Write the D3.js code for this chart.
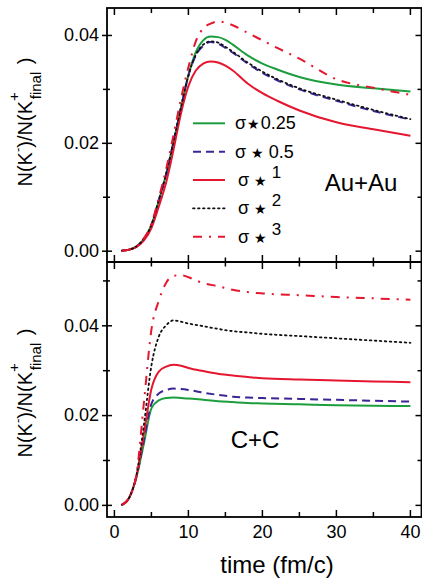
<!DOCTYPE html>
<html><head><meta charset="utf-8">
<script src="https://cdn.jsdelivr.net/npm/d3@7"></script>
<style>body{margin:0;background:#fff}svg{display:block;font-family:"Liberation Sans",Arial,sans-serif}</style>
</head><body><svg id="c" width="422" height="583"></svg>
<script>
// ---- data ----
const seriesNames = ["σ*0.25","σ*0.5","σ*1","σ*2","σ*3"];
const tTop = [1,2,3,4,5,6,7,8,9,10,11,12,13,14,15,16,18,20,22,25,30,35,40];
const auGreen = [0,0.0002,0.0008,0.0022,0.0047,0.0093,0.0142,0.0202,0.0265,0.0325,0.0368,0.0390,0.0397,0.0396,0.0391,0.0382,0.0362,0.0347,0.0336,0.0322,0.0308,0.0301,0.0295];
const auBlue  = [0,0.0002,0.0008,0.0022,0.0047,0.0093,0.0142,0.0202,0.0265,0.0325,0.0362,0.0380,0.0387,0.0384,0.0376,0.0367,0.0347,0.0330,0.0316,0.0299,0.0278,0.0259,0.0243];
const auRed   = [0,0.0002,0.0007,0.0019,0.0042,0.0082,0.0127,0.0188,0.0255,0.0305,0.0334,0.0347,0.0351,0.0349,0.0343,0.0334,0.0310,0.0292,0.0278,0.0260,0.0238,0.0225,0.0213];
const auBlack = [0,0.0002,0.0008,0.0023,0.0048,0.0094,0.0143,0.0203,0.0266,0.0325,0.0363,0.0382,0.0388,0.0386,0.0378,0.0369,0.0349,0.0332,0.0318,0.0301,0.0280,0.0261,0.0244];
const auDashDot=[0,0.0002,0.0008,0.0023,0.0050,0.0098,0.0152,0.0215,0.0282,0.0340,0.0388,0.0412,0.0421,0.0425,0.0423,0.0418,0.0404,0.0390,0.0376,0.0356,0.0318,0.0302,0.0289];
const tBot = [1,2,3,4,5,6,7,8,9,10,12,14,16,18,20,25,30,35,40];
const ccGreen = [0,0.0016,0.0063,0.0138,0.0215,0.0233,0.0238,0.0239,0.0238,0.0237,0.0234,0.0231,0.0229,0.0227,0.0226,0.0224,0.0222,0.0221,0.0220];
const ccBlue  = [0,0.0016,0.0064,0.0145,0.0225,0.0248,0.0256,0.0259,0.0258,0.0256,0.0250,0.0245,0.0241,0.0239,0.0238,0.0236,0.0234,0.0232,0.0230];
const ccRed   = [0,0.0016,0.0066,0.0160,0.0258,0.0297,0.0308,0.0312,0.0310,0.0305,0.0298,0.0292,0.0288,0.0285,0.0282,0.0279,0.0277,0.0275,0.0273];
const ccBlack = [0,0.0016,0.0068,0.0180,0.0310,0.0375,0.0400,0.0411,0.0408,0.0404,0.0398,0.0392,0.0387,0.0384,0.0381,0.0376,0.0371,0.0366,0.0361];
const ccDashDot=[0,0.0016,0.0070,0.0230,0.0390,0.0455,0.0495,0.0510,0.0512,0.0507,0.0494,0.0487,0.0479,0.0474,0.0471,0.0467,0.0463,0.0460,0.0457];
const xTicks = [0,10,20,30,40];
const xMinor = [5,15,25,35];
const yTicksTop = [0,0.02,0.04], yMinorTop = [0.01,0.03];
const yTicksBot = [0,0.02,0.04], yMinorBot = [0.01,0.03,0.05];

// ---- styles ----
const styles = [
  {color:"#1d9e3e", dash:null, w:2},
  {color:"#3d2596", dash:"8,5", w:2},
  {color:"#e5162f", dash:null, w:2},
  {color:"#111", dash:"1.6,3.4", w:1.8},
  {color:"#e5162f", dash:"9,7,2,7", w:2}
];

const svg = d3.select("#c");
const L=107, R=421.5, T1=8, M=262, B2=517;
const x = d3.scaleLinear().domain([-1,41.5]).range([L,R]);
const yTop = d3.scaleLinear().domain([-0.0021,0.0450]).range([M,T1]);
const yBot = d3.scaleLinear().domain([-0.0027,0.0541]).range([B2,M]);

function drawPanel(y, t, sets, top, bottom, majY, minY, label, lx, ly, titleY){
  const g = svg.append("g");
  const clipId = "clip"+Math.round(top);
  svg.append("clipPath").attr("id",clipId).append("rect").attr("x",L).attr("y",top).attr("width",R-L).attr("height",bottom-top);
  const line = d3.line().x((d,i)=>x(t[i])).y(d=>y(d)).curve(d3.curveMonotoneX);
  sets.forEach((s,i)=>{
    const st = styles[i];
    g.append("path").attr("clip-path",`url(#${clipId})`).attr("d",line(s)).attr("fill","none")
      .attr("stroke",st.color).attr("stroke-width",st.w).attr("stroke-dasharray",st.dash)
      .attr("stroke-linecap", i===3?"round":"butt");
  });
  const ax = (a)=>a.call(s=>s.select(".domain").remove()).call(s=>s.selectAll("line").attr("stroke","#000").attr("stroke-width",1.5));
  g.append("g").attr("transform",`translate(${L},0)`).call(d3.axisLeft(y).tickValues(majY).tickSize(5).tickPadding(3).tickFormat(d3.format(".2f")))
    .call(ax).call(s=>s.selectAll("text").attr("font-size",18).attr("font-family","Liberation Sans, Arial, sans-serif").attr("fill","#000"));
  g.append("g").attr("transform",`translate(${L},0)`).call(d3.axisRight(y).tickValues(majY).tickSize(5).tickFormat("")).call(ax);
  g.append("g").attr("transform",`translate(${L},0)`).call(d3.axisLeft(y).tickValues(minY).tickSize(4).tickFormat("")).call(ax);
  g.append("g").attr("transform",`translate(${L},0)`).call(d3.axisRight(y).tickValues(minY).tickSize(3).tickFormat("")).call(ax);
  g.append("g").attr("transform",`translate(${R},0)`).call(d3.axisLeft(y).tickValues(majY).tickSize(6).tickFormat("")).call(ax);
  g.append("g").attr("transform",`translate(${R},0)`).call(d3.axisLeft(y).tickValues(minY).tickSize(4).tickFormat("")).call(ax);
  g.append("rect").attr("x",L).attr("y",top).attr("width",R-L).attr("height",bottom-top).attr("fill","none").attr("stroke","#000").attr("stroke-width",1.8);
  g.append("text").attr("x",lx).attr("y",ly).attr("font-size",24).attr("text-anchor","middle").text(label);
  const tt = g.append("text").attr("transform",`translate(32,${titleY}) rotate(-90)`).attr("text-anchor","middle").attr("font-size",20);
  tt.append("tspan").text("N(K");
  tt.append("tspan").attr("font-size",13).attr("dy",-10).text("-");
  tt.append("tspan").attr("dy",10).text(")/N(K");
  tt.append("tspan").attr("font-size",15).attr("dy",-13).text("+");
  tt.append("tspan").attr("font-size",15).attr("dy",22).attr("dx",-7).text("final");
  tt.append("tspan").attr("dy",-9).attr("dx",2).text(" )");
}

drawPanel(yTop, tTop, [auGreen,auBlue,auRed,auBlack,auDashDot], T1, M, yTicksTop, yMinorTop, "Au+Au", 361, 191, 122);
drawPanel(yBot, tBot, [ccGreen,ccBlue,ccRed,ccBlack,ccDashDot], M, B2, yTicksBot, yMinorBot, "C+C", 255, 448, 393);

function xt(yPos, vals, size, dir){
  vals.forEach(v=>{
    svg.append("line").attr("x1",x(v)).attr("x2",x(v))
      .attr("y1", dir==="both"? yPos-size : yPos)
      .attr("y2", dir==="both"? yPos+size : (dir==="down"? yPos+size : yPos-size))
      .attr("stroke","#000").attr("stroke-width",1.5);
  });
}
xt(T1, xTicks, 7, "down"); xt(T1, xMinor, 5, "down");
xt(M, xTicks, 7, "both"); xt(M, xMinor, 4.5, "both");
xt(B2, xTicks, 7, "up"); xt(B2, xMinor, 5, "up");
svg.append("g").selectAll("text").data(xTicks).join("text")
  .attr("x",d=>x(d)).attr("y",538).attr("text-anchor","middle").attr("font-size",18).text(d=>d);
svg.append("text").attr("x",277).attr("y",573).attr("text-anchor","middle").attr("font-size",24).text("time (fm/c)");

// legend
const legRows = [123.3,151.7,180,208.3,236.7];
const legLabels = [["σ","0.25",false],["σ","0.5",false],["σ","1",true],["σ","2",true],["σ","3",true]];
const leg = svg.append("g");
seriesNames.forEach((n,i)=>{
  const st = styles[i];
  leg.append("line").attr("x1",193).attr("x2",225).attr("y1",legRows[i]).attr("y2",legRows[i])
    .attr("stroke",st.color).attr("stroke-width",st.w).attr("stroke-dasharray",st.dash).attr("stroke-linecap", i===3?"round":"butt");
  const tx = leg.append("text").attr("x", i<2?235:238).attr("y",legRows[i]+6).attr("font-size",18);
  const [sig,num,sup] = legLabels[i];
  tx.append("tspan").text(sig);
  tx.append("tspan").attr("font-family","DejaVu Sans").attr("font-size",14).attr("dx", i===0?1:5).text("★");
  if(sup){
    tx.append("tspan").attr("dx",5).attr("dy",-8).attr("font-size",17).text(num);
  } else {
    tx.append("tspan").attr("dx", i===0?1:5).text(num);
  }
});
</script></body></html>
